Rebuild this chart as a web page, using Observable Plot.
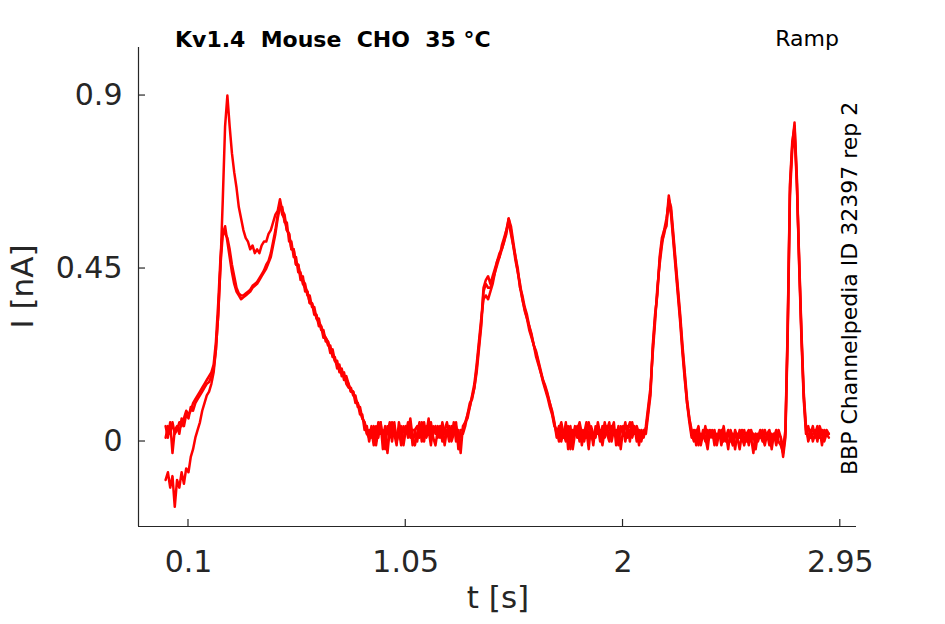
<!DOCTYPE html>
<html>
<head>
<meta charset="utf-8">
<script src="https://cdn.jsdelivr.net/npm/d3@7"></script>
<script src="https://cdn.jsdelivr.net/npm/@observablehq/plot@0.6"></script>
<style>
  html, body { margin: 0; padding: 0; background: #fff; }
  #chart { width: 945px; height: 624px; }
</style>
</head>
<body>
<div id="chart"></div>
<script>
// Sampling of the recorded traces (s)
const sampleStart = 0;
const sampleStep = 0.01;

// Current (nA) of three repetitions, one value per 10 ms from t = 0 to 2.90 s
const repA = [
  -0.10,-0.08,-0.12,-0.09,-0.17,-0.10,-0.12,-0.08,-0.11,-0.07,
  -0.08,-0.04,-0.02,0.01,0.03,0.05,0.08,0.10,0.12,0.13,
  0.15,0.18,0.24,0.33,0.46,0.63,0.82,0.90,0.82,0.75,
  0.70,0.66,0.61,0.58,0.55,0.53,0.52,0.50,0.51,0.49,
  0.50,0.49,0.51,0.52,0.52,0.54,0.55,0.57,0.59,0.60,
  0.63,0.60,0.59,0.55,0.54,0.50,0.50,0.46,0.46,0.43,
  0.42,0.41,0.38,0.38,0.35,0.35,0.32,0.32,0.29,0.29,
  0.26,0.26,0.23,0.24,0.21,0.21,0.18,0.19,0.16,0.17,
  0.15,0.13,0.13,0.10,0.10,0.07,0.07,0.03,0.04,0.00,
  0.03,-0.01,0.04,0.01,0.05,-0.02,0.03,0.02,0.05,0.00,
  0.04,0.01,0.03,-0.01,0.04,0.02,0.05,0.01,0.03,0.03,
  0.00,0.04,0.02,0.05,0.01,0.03,-0.01,0.04,0.02,0.04,
  0.01,0.05,0.02,0.03,0.00,0.04,0.03,0.05,-0.02,0.03,
  0.03,0.05,0.07,0.09,0.115,0.14,0.19,0.25,0.31,0.40,
  0.42,0.43,0.41,0.43,0.45,0.47,0.49,0.50,0.52,0.54,
  0.58,0.55,0.51,0.48,0.44,0.40,0.37,0.345,0.32,0.30,
  0.275,0.25,0.23,0.205,0.18,0.16,0.14,0.12,0.10,0.075,
  0.045,0.02,0.04,0.00,0.03,0.01,0.04,-0.02,0.03,0.02,
  0.04,0.00,0.03,0.02,0.05,0.01,0.03,-0.01,0.04,0.02,
  0.03,0.01,0.05,0.02,0.00,0.04,0.02,0.03,-0.01,0.04,
  0.02,0.05,0.01,0.03,0.02,0.04,0.00,0.03,0.02,0.02,
  0.03,0.08,0.13,0.24,0.32,0.39,0.47,0.52,0.54,0.57,
  0.64,0.60,0.53,0.46,0.39,0.32,0.24,0.17,0.10,0.06,
  0.02,0.00,0.03,-0.01,0.02,0.01,0.04,0.00,0.02,0.03,
  -0.01,0.02,0.01,0.03,0.00,0.02,-0.02,0.03,0.01,0.02,
  0.00,0.03,0.01,-0.01,0.02,0.03,0.00,0.02,-0.02,0.02,
  0.01,0.03,0.00,0.02,-0.01,0.02,0.01,0.03,0.00,-0.01,
  -0.03,0.02,0.29,0.66,0.77,0.83,0.69,0.47,0.28,0.12,
  0.03,0.01,0.03,0.00,0.02,0.04,0.01,0.03,0.00,0.02,
  0.02
];
const repB = [
  0.04,0.01,0.05,-0.03,0.03,0.04,0.02,0.06,0.04,0.07,
  0.06,0.09,0.08,0.10,0.11,0.12,0.13,0.14,0.15,0.155,
  0.17,0.19,0.24,0.33,0.46,0.54,0.56,0.52,0.48,0.44,
  0.41,0.39,0.38,0.37,0.375,0.38,0.385,0.39,0.40,0.405,
  0.41,0.42,0.43,0.44,0.45,0.465,0.48,0.51,0.54,0.58,
  0.61,0.61,0.57,0.57,0.52,0.52,0.48,0.48,0.44,0.44,
  0.41,0.40,0.39,0.36,0.36,0.33,0.33,0.30,0.30,0.27,
  0.27,0.25,0.25,0.22,0.22,0.19,0.20,0.17,0.18,0.15,
  0.14,0.14,0.12,0.12,0.09,0.09,0.06,0.05,0.02,0.03,
  0.01,0.04,0.00,0.05,0.02,0.03,-0.02,0.04,0.01,0.05,
  0.02,-0.01,0.05,0.02,0.00,0.04,0.01,0.05,-0.01,0.03,
  0.04,0.01,0.05,0.00,0.04,0.02,0.05,0.01,-0.01,0.03,
  0.04,0.00,0.03,0.05,0.02,0.01,0.05,0.00,0.03,-0.03,
  0.04,0.05,0.06,0.09,0.12,0.15,0.20,0.26,0.32,0.37,
  0.38,0.37,0.39,0.41,0.44,0.46,0.48,0.50,0.52,0.55,
  0.57,0.54,0.51,0.47,0.44,0.41,0.37,0.34,0.32,0.29,
  0.27,0.25,0.22,0.20,0.18,0.155,0.135,0.115,0.09,0.07,
  0.04,0.03,0.00,0.04,0.01,0.05,-0.02,0.03,0.01,0.04,
  0.01,0.04,-0.01,0.03,0.01,0.05,0.02,0.00,0.03,0.04,
  0.00,0.04,0.01,0.03,0.05,0.00,0.03,0.01,0.04,-0.02,
  0.03,0.01,0.04,0.00,0.05,0.02,0.03,-0.01,0.03,0.01,
  0.04,0.09,0.14,0.23,0.31,0.40,0.46,0.51,0.55,0.58,
  0.62,0.59,0.52,0.45,0.38,0.31,0.23,0.16,0.10,0.05,
  0.01,0.03,-0.01,0.02,0.00,0.03,0.01,-0.02,0.03,0.01,
  0.02,0.00,0.03,-0.01,0.02,0.01,0.03,0.00,0.02,-0.02,
  0.02,0.01,0.03,0.00,0.02,-0.01,0.03,0.01,0.02,0.00,
  0.02,0.00,0.03,0.01,0.02,-0.02,0.02,0.00,0.03,0.01,
  -0.04,0.01,0.27,0.64,0.76,0.80,0.67,0.48,0.29,0.13,
  0.04,0.00,0.02,0.04,0.01,0.02,0.03,-0.01,0.03,0.02,
  0.01
];
const repC = [
  0.01,0.04,0.02,0.05,0.02,0.03,0.05,0.04,0.06,0.08,
  0.07,0.08,0.10,0.11,0.12,0.13,0.14,0.15,0.16,0.17,
  0.18,0.20,0.26,0.36,0.48,0.55,0.54,0.53,0.50,0.46,
  0.43,0.40,0.385,0.38,0.38,0.385,0.39,0.395,0.405,0.41,
  0.415,0.425,0.435,0.445,0.46,0.47,0.49,0.52,0.55,0.59,
  0.62,0.59,0.58,0.55,0.54,0.50,0.50,0.46,0.46,0.42,
  0.43,0.39,0.39,0.36,0.36,0.34,0.32,0.31,0.30,0.28,
  0.27,0.26,0.24,0.23,0.21,0.20,0.19,0.18,0.17,0.16,
  0.15,0.13,0.13,0.11,0.10,0.08,0.06,0.05,0.02,0.01,
  0.04,0.02,-0.01,0.03,0.05,0.01,0.04,-0.03,0.03,0.02,
  0.05,0.00,0.02,0.04,-0.01,0.03,0.02,0.06,0.01,-0.01,
  0.02,0.05,0.00,0.03,0.02,0.06,0.00,0.03,0.04,0.01,
  0.02,0.04,-0.01,0.03,0.04,0.00,0.02,0.04,0.01,0.02,
  0.02,0.04,0.07,0.10,0.11,0.14,0.18,0.24,0.30,0.39,
  0.41,0.40,0.40,0.42,0.44,0.47,0.48,0.51,0.53,0.55,
  0.58,0.56,0.52,0.48,0.45,0.40,0.38,0.35,0.33,0.30,
  0.28,0.25,0.235,0.21,0.185,0.16,0.145,0.125,0.10,0.08,
  0.05,0.01,0.03,0.05,0.02,0.00,0.03,0.04,-0.02,0.02,
  0.03,0.05,0.02,0.00,0.03,-0.02,0.04,0.02,0.01,0.05,
  0.02,-0.01,0.03,0.04,0.01,0.03,0.05,-0.01,0.02,0.03,
  0.04,0.00,0.03,0.05,0.01,0.03,0.04,0.02,0.00,0.03,
  0.02,0.07,0.12,0.25,0.33,0.38,0.48,0.53,0.55,0.56,
  0.63,0.61,0.54,0.47,0.40,0.33,0.25,0.18,0.11,0.06,
  0.03,0.01,0.02,0.04,-0.01,0.02,0.00,0.03,0.01,0.02,
  0.03,-0.01,0.02,0.01,0.04,0.00,0.02,0.01,-0.01,0.03,
  0.01,-0.02,0.02,0.03,0.00,0.02,0.01,-0.03,0.02,0.01,
  0.03,0.01,-0.01,0.02,0.03,0.00,0.02,-0.01,0.02,0.01,
  -0.02,0.03,0.30,0.67,0.78,0.82,0.68,0.46,0.27,0.11,
  0.02,0.04,0.01,0.02,0.03,0.00,0.04,0.02,0.01,0.03,
  0.02
];

const repNames = ["rep A", "rep B", "rep C"];

const xTicks = [0.1, 1.05, 2, 2.95];
const xTickLabels = ["0.1", "1.05", "2", "2.95"];
const yTicks = [0, 0.45, 0.9];
const yTickLabels = ["0", "0.45", "0.9"];

const xDomain = [-0.1186, 3.0209];
const yDomain = [-0.2211, 1.025];

const titleText = "Kv1.4  Mouse  CHO  35 °C";
const protocolText = "Ramp";
const sourceText = "BBP Channelpedia ID 32397 rep 2";
const xLabel = "t [s]";
const yLabel = "I [nA]";

// Build the table
const rows = [];
[repA, repB, repC].forEach((vals, k) => {
  vals.forEach((v, i) => rows.push({t: sampleStart + i * sampleStep, I: v, rep: repNames[k]}));
});

const axisColor = "#262626";
const font = "DejaVu Sans";

const plot = Plot.plot({
  width: 945,
  height: 624,
  marginLeft: 138,
  marginRight: 89,
  marginTop: 47,
  marginBottom: 98,
  style: {fontFamily: font, color: axisColor, background: "#fff", overflow: "visible"},
  x: {domain: xDomain},
  y: {domain: yDomain},
  marks: [
    Plot.axisX(xTicks, {
      tickSize: 0, tickPadding: 24, fontSize: 30, fill: axisColor,
      tickFormat: d => xTickLabels[xTicks.indexOf(d)], label: null
    }),
    Plot.axisY(yTicks, {
      tickSize: 0, tickPadding: 16, fontSize: 30, fill: axisColor,
      tickFormat: d => yTickLabels[yTicks.indexOf(d)], label: null
    }),
    Plot.ruleY([yDomain[0]], {stroke: axisColor, strokeWidth: 1.2}),
    Plot.ruleX([xDomain[0]], {stroke: axisColor, strokeWidth: 1.2}),
    Plot.line(rows, {x: "t", y: "I", z: "rep", stroke: "#ff0000", strokeWidth: 2.5, strokeLinejoin: "round"})
  ]
});

document.getElementById("chart").appendChild(plot);

const svg = d3.select(plot);
const sx = plot.scale("x"), sy = plot.scale("y");
const x0 = sx.apply(xDomain[0]), y0 = sy.apply(yDomain[0]);
const tickLen = 7;

// inward ticks
xTicks.forEach(v => {
  const px = sx.apply(v);
  svg.append("line").attr("x1", px).attr("x2", px).attr("y1", y0).attr("y2", y0 - tickLen)
    .attr("stroke", axisColor).attr("stroke-width", 1.2);
});
yTicks.forEach(v => {
  const py = sy.apply(v);
  svg.append("line").attr("x1", x0).attr("x2", x0 + tickLen).attr("y1", py).attr("y2", py)
    .attr("stroke", axisColor).attr("stroke-width", 1.2);
});

// axis labels
svg.append("text").text(xLabel)
  .attr("x", (sx.apply(xDomain[0]) + sx.apply(xDomain[1])) / 2 + 1).attr("y", 608)
  .attr("text-anchor", "middle").attr("font-size", 31).attr("fill", axisColor)
  .attr("font-family", font);
svg.append("text").text(yLabel)
  .attr("transform", `translate(33, ${(sy.apply(yDomain[0]) + sy.apply(yDomain[1])) / 2}) rotate(-90)`)
  .attr("text-anchor", "middle").attr("font-size", 31).attr("fill", axisColor)
  .attr("font-family", font);

// title & annotations
svg.append("text").text(titleText)
  .attr("x", 175).attr("y", 47).attr("text-anchor", "start")
  .attr("font-size", 22).attr("font-weight", "bold").attr("fill", "#000")
  .attr("font-family", font).style("white-space", "pre");
svg.append("text").text(protocolText)
  .attr("x", 839).attr("y", 46).attr("text-anchor", "end")
  .attr("font-size", 22).attr("fill", "#000").attr("font-family", font);
svg.append("text").text(sourceText)
  .attr("transform", "translate(857, 475) rotate(-90)").attr("text-anchor", "start")
  .attr("font-size", 22).attr("fill", "#000").attr("font-family", font);
</script>
</body>
</html>
